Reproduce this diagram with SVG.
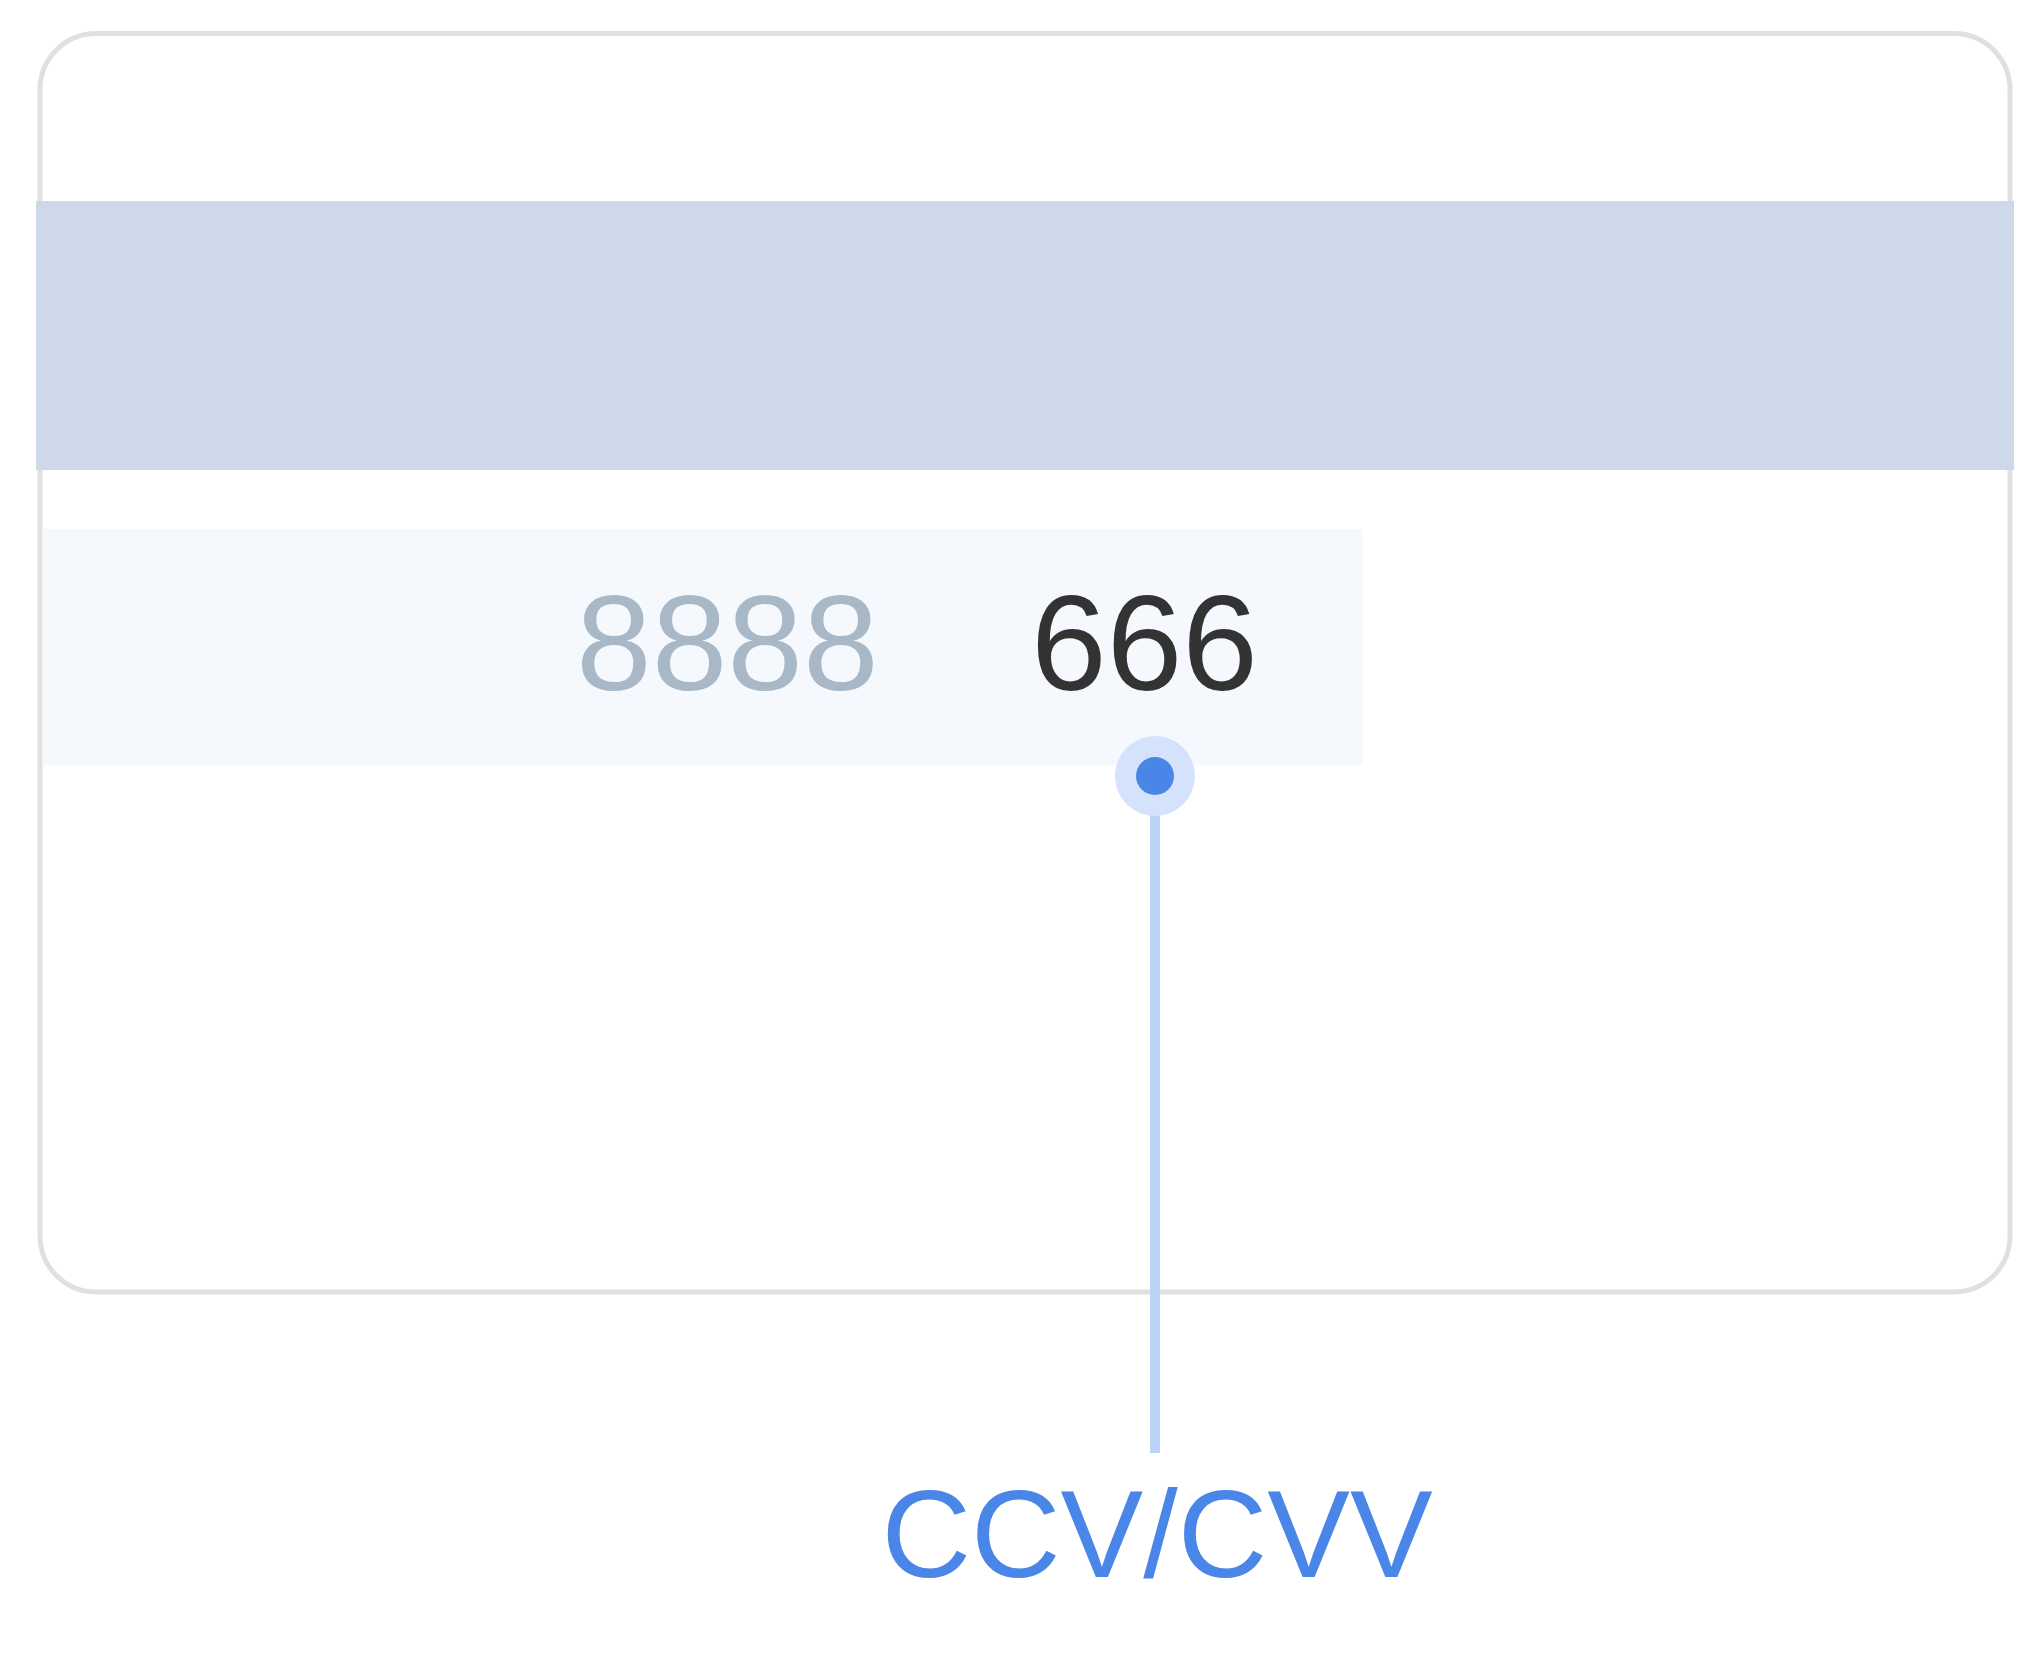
<svg xmlns="http://www.w3.org/2000/svg" width="2040" height="1680" viewBox="0 0 2040 1680">
<style>
.num{font-family:"Liberation Sans",Arial,sans-serif;font-size:136px}
.lbl{font-family:"Liberation Sans",Arial,sans-serif;font-size:124px;fill:#4a86e8}
</style>
<rect width="2040" height="1680" fill="#ffffff"/>
<g id="card">
<rect x="40" y="33.5" width="1970" height="1258.5" rx="56" ry="56" fill="#ffffff" stroke="#e0e0e0" stroke-width="5"/>
<rect x="36" y="201" width="1978" height="269" fill="#cdd9e8"/>
<rect x="42.5" y="529" width="1320" height="236" fill="#f5f9fe"/>
<text class="num" x="576" y="690" fill="#a9b8c7">8888</text>
<text class="num" x="1031" y="690" fill="#333333">666</text>
</g>
<g id="connectors">
<line x1="1155" y1="776" x2="1155" y2="1453" stroke="#bcd3f8" stroke-width="10"/>
</g>
<g id="marker-dot">
<circle cx="1155" cy="776" r="40" fill="#d4e3fb"/>
<circle cx="1155" cy="776" r="19" fill="#4a86e8"/>
</g>
<g id="label">
<text class="lbl" x="1157" y="1577" text-anchor="middle">CCV/CVV</text>
</g>
</svg>
